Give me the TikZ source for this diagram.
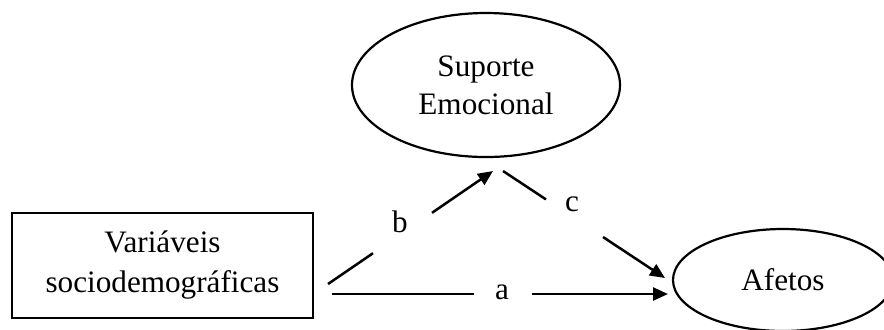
\documentclass[tikz,border=0pt]{standalone}
\usepackage{fontspec}
\setmainfont{Liberation Serif}
\usetikzlibrary{arrows.meta,shapes.geometric}
\begin{document}
\begin{tikzpicture}[x=0.5pt,y=-0.5pt,
  txt/.style={font=\fontsize{15.6}{19}\selectfont, align=center},
  oval/.style={ellipse, draw, line width=1.1pt, inner sep=0pt, txt},
  varbox/.style={rectangle, draw, line width=1.1pt, inner sep=0pt, txt},
  conn/.style={line width=1.25pt},
  arr/.style={conn, -{Triangle[length=7.5pt,width=6.5pt]}},
  lab/.style={txt, inner sep=0pt}]
\useasboundingbox (0,0) rectangle (884,329);
\clip (0,0) rectangle (884,329);
\node[varbox, minimum width=150.5pt, minimum height=52.5pt] (vs) at (162.5,265.5) {Variáveis\\[1pt]sociodemográficas};
\node[oval, minimum width=134pt, minimum height=72pt] (se) at (486,85) {Suporte\\Emocional};
\node[oval, minimum width=110pt, minimum height=51pt] (af) at (783,280) {Afetos};
% label nodes
\node[lab] (la) at (502,292) {a};
\node[lab] (lb) at (400,222) {b};
\node[lab] (lc) at (572,204) {c};
% connector points
\coordinate (a0) at (332,294);
\coordinate (a1) at (474,294);
\coordinate (a2) at (532,294);
\coordinate (a3) at (668,294);
\coordinate (b0) at (328,284);
\coordinate (b1) at (373,253.2);
\coordinate (b2) at (432,212.8);
\coordinate (b3) at (493,171);
\coordinate (c0) at (503,171);
\coordinate (c1) at (546,199.4);
\coordinate (c2) at (603,237);
\coordinate (c3) at (665,278);
\draw[conn] (a0) -- (a1);
\draw[arr] (a2) -- (a3);
\draw[conn] (b0) -- (b1);
\draw[arr] (b2) -- (b3);
\draw[conn] (c0) -- (c1);
\draw[arr] (c2) -- (c3);
\end{tikzpicture}
\end{document}
